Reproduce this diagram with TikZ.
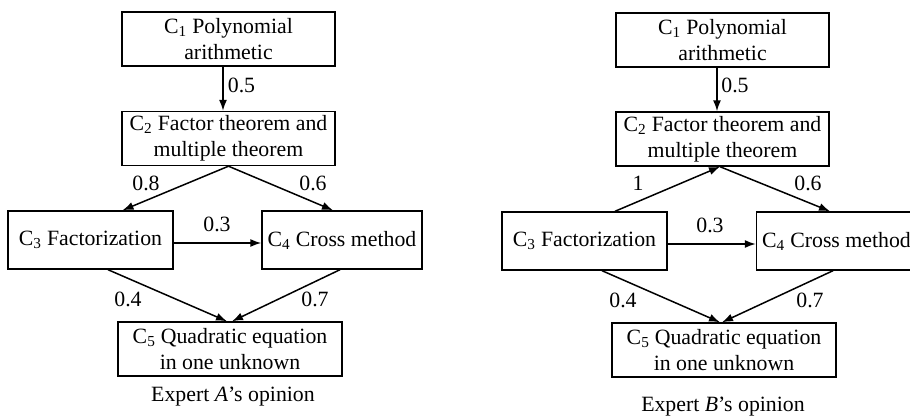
\documentclass[tikz,border=0pt]{standalone}
\usepackage{fontspec}
\setmainfont{Liberation Serif}
\usetikzlibrary{arrows.meta}

\begin{document}
\begin{tikzpicture}[x=1pt,y=1pt,
  box/.style={draw,line width=1.4pt,align=center,inner sep=0pt,font=\fontsize{21.8}{26}\selectfont},
  link/.style={line width=1.5pt,-{Latex[length=11pt,width=8pt]}},
  weight/.style={font=\fontsize{21.8}{26}\selectfont,inner sep=0pt}]
\newcommand{\weight}[4]{\node[weight] (#1) at (#2,#3) {#4};}

\useasboundingbox (0,0) rectangle (910,417);

% Expert A
\node[box,minimum width=213pt,minimum height=54pt] (a1) at (228.5,378) {C\textsubscript{1} Polynomial\\arithmetic};
\node[box,minimum width=213pt,minimum height=54pt] (a2) at (228.5,278.5) {C\textsubscript{2} Factor theorem and\\multiple theorem};
\node[box,minimum width=165pt,minimum height=58pt] (a3) at (90.5,177) {C\textsubscript{3} Factorization};
\node[box,minimum width=160pt,minimum height=58pt] (a4) at (342,177) {C\textsubscript{4} Cross method};
\node[box,minimum width=224pt,minimum height=54pt] (a5) at (230,68) {C\textsubscript{5} Quadratic equation\\in one unknown};

\draw[link] ([xshift=-5.5pt]a1.south) -- ([xshift=-5.5pt]a2.north);
\draw[link] (a2.south) -- ([xshift=32pt]a3.north);
\draw[link] (a2.south) -- ([xshift=-9pt]a4.north);
\draw[link] ([yshift=-3pt]a3.east) -- ([yshift=-3pt]a4.west);
\draw[link] ([xshift=17.5pt]a3.south) -- ([xshift=-3pt]a5.north);
\draw[link] ([xshift=-2pt]a4.south) -- ([xshift=2pt]a5.north);

\weight{a12}{241.5}{332}{0.5}
\weight{a23}{146}{234}{0.8}
\weight{a24}{313}{234}{0.6}
\weight{a34}{217}{193}{0.3}
\weight{a35}{128}{118}{0.4}
\weight{a45}{315}{118}{0.7}

\node[weight] (capa) at (233,20) {Expert \textit{A}'s opinion};

% Expert B
\node[box,minimum width=213pt,minimum height=54pt] (b1) at (722.5,377) {C\textsubscript{1} Polynomial\\arithmetic};
\node[box,minimum width=213pt,minimum height=54pt] (b2) at (722.5,278) {C\textsubscript{2} Factor theorem and\\multiple theorem};
\node[box,minimum width=165pt,minimum height=58pt] (b3) at (584.5,176) {C\textsubscript{3} Factorization};
\node[box,minimum width=160pt,minimum height=58pt] (b4) at (836.5,176) {C\textsubscript{4} Cross method};
\node[box,minimum width=224pt,minimum height=54pt] (b5) at (724,67) {C\textsubscript{5} Quadratic equation\\in one unknown};

\draw[link] ([xshift=-5.5pt]b1.south) -- ([xshift=-5.5pt]b2.north);
\draw[link] ([xshift=30.5pt]b3.north) -- ([xshift=-2.5pt]b2.south);
\draw[link] ([xshift=-2.5pt]b2.south) -- ([xshift=-6.5pt]b4.north);
\draw[link] ([yshift=-3pt]b3.east) -- ([yshift=-3pt]b4.west);
\draw[link] ([xshift=17.5pt]b3.south) -- ([xshift=-4pt]b5.north);
\draw[link] ([xshift=-3.5pt]b4.south) -- ([xshift=-2pt]b5.north);

\weight{b12}{735}{332}{0.5}
\weight{b32}{638}{234}{1}
\weight{b24}{808}{234}{0.6}
\weight{b34}{710}{192}{0.3}
\weight{b35}{623}{117}{0.4}
\weight{b45}{810}{117}{0.7}

\node[weight] (capb) at (723,10) {Expert \textit{B}'s opinion};
\end{tikzpicture}
\end{document}
